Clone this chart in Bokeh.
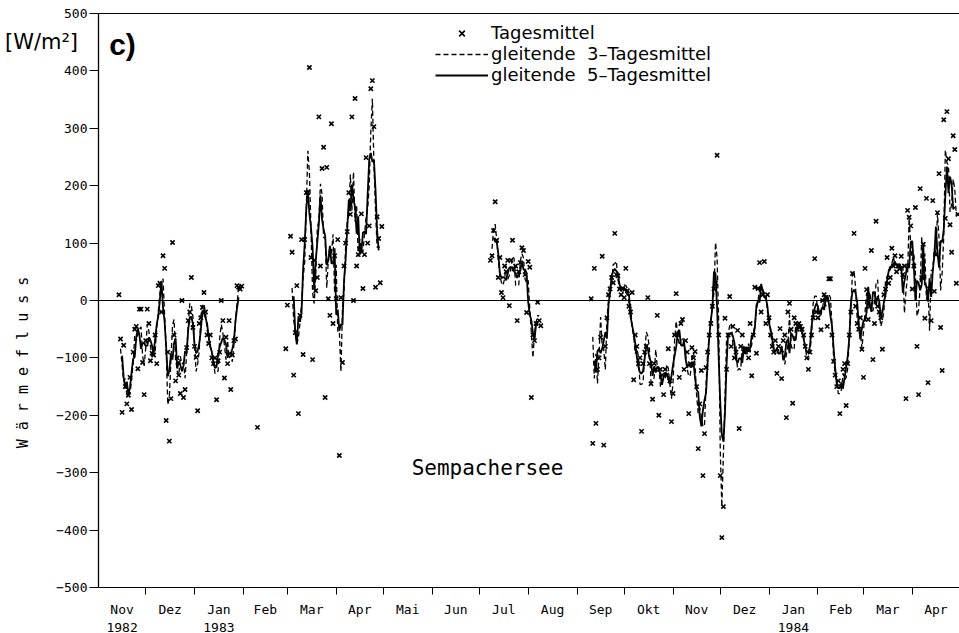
import numpy as np
import pandas as pd
from bokeh.plotting import figure
from bokeh.models import (FixedTicker, Label, Legend, LegendItem,
                          LinearAxis, Range1d)
from bokeh.embed import file_html
from bokeh.resources import INLINE

nan = float("nan")

# Daily mean heat flux [W/m2], one list per measuring campaign (first day, values)
camp_1 = ("1982-11-14", [
    10, -67, -195, -78, -150, -180, -165, -134, -190, -90,
    -50, -45, -119, -15, -15, -108, -164, -70, -15, -40,
    -105, -92, -95, -60, -110, 26, 30, -20, 78, 56,
    -209, -90, -245, -171, 101, -60, -140, -100, -130, -162,
    0, -169, -155, -82, -35, -20, 40, -47, -80, -99,
    -192, -40, -30, -12, 14, -20, -60, -75, -60, -100,
    -110, -100, -173, -105, -90, 0, -35, -135, -64, -110,
    -35, -155, -95, -70, -67, 26, 23, 20, 25])
camp_2 = ("1983-02-10", [-221])
camp_3 = ("1983-02-28", [
    -84, -8, nan, 112, 84, -130, -56, 26, -197, -26,
    106, -94, 106, 188, 188, 406, 75, -103, 70, 17,
    40, 320, 60, 230, 267, -169, 232, 3, -26, 308,
    -40, 78, 3, 106, -270, 5, -108, 60, 100, 120,
    188, 150, 320, 0, 352, 60, 80, 90, 151, 21,
    80, 249, 100, 130, 369, 383, 303, 23, 146, 108,
    31, 129])
camp_4 = ("1983-07-08", [
    70, 78, 122, 172, 105, 40, 75, 14, 5, 60,
    50, 70, -9, 70, 105, 55, 60, -35, 50, 66,
    92, 87, 45, -21, 68, 58, -169, -60, -70, -40,
    -3, -35, -44])
camp_5 = ("1983-09-10", [
    3, -249, 56, -214, -120, -100, -64, 77, -252, -80,
    -30, 10, 20, 40, 31, 117, 45, 43, 20, 10,
    21, 5, 56, 17, -10, -20, 14, -138, -60, -80,
    -110, -100, -228, -110, -90, -80, 5, -110, -145, -172,
    -110, -120, -26, -200, -120, -130, -164, -120, -130, -84,
    -140, -211, -162, -60, 12, -60, -134, -40, -33, -120,
    -70, -90, -197, -110, -82, -100, -89, -150, -258, -180,
    -122, -305, -232, -117, -90, -60, -40, -10, 20, 30,
    253, -60, -305, -413, -359, -31, -120, -60, 7, -80,
    -45, -100, -90, -52, -223, -80, -60, -90, -90, -85,
    -100, -40, -131, -60, 23, -92, 21, 66, -20, 10,
    68, -40, 10, -30, -60, -80, -90, -70, -127, -80,
    -49, -136, -70, -60, -204, -20, -5, -50, -179, -30,
    -40, -50, -40, -45, -50, -60, -80, -100, -120, -90,
    -60, -30, 73, -20, -30, -20, -51, 0, 10, 5,
    -45, 38, 38, -60, -106, -130, -150, -140, -197, -150,
    -120, -110, -183, -110, -60, -20, 47, 117, -10, -40,
    -50, -30, -85, -134, 56, 19, -33, -10, 87, -103,
    -40, 138, -10, -20, -30, -85, 10, 20, 75, 30,
    40, 91, 60, 78, 50, 60, 55, 77, 45, 60,
    -171, 157, 145, 130, 20, 60, 162, -80, -164, 195,
    40, 98, -31, 178, -143, 20, -35, 174, 16, 80,
    153, 221, -47, -122, 315, 143, 329, 247, 132, 84,
    287, 263, 30, 150])
campaigns = [camp_1, camp_2, camp_3, camp_4, camp_5]

month_labels = ["Nov\n1982", "Dez", "Jan\n1983", "Feb", "Mar", "Apr", "Mai",
                "Jun", "Jul", "Aug", "Sep", "Okt", "Nov", "Dez",
                "Jan\n1984", "Feb", "Mar", "Apr"]
y_ticks = list(range(-500, 501, 100))

# ---- assemble the daily series on a continuous calendar -------------------
t0 = pd.Timestamp("1982-11-01")
days = pd.date_range(t0, "1984-04-30", freq="D")
daily = pd.Series(np.nan, index=days)
for first, vals in campaigns:
    idx = pd.date_range(first, periods=len(vals), freq="D")
    daily.loc[idx] = vals

xday = np.asarray((days - t0).days, dtype=float)
mean3 = daily.rolling(3, center=True).mean().to_numpy()
mean5 = daily.rolling(5, center=True).mean().to_numpy()
ok = ~np.isnan(daily.to_numpy())

month_starts = pd.date_range(t0, "1984-05-01", freq="MS")
ms = np.asarray((month_starts - t0).days, dtype=float)
mid = (ms[:-1] + ms[1:]) / 2.0
x_end = ms[-1]

# ---- page geometry: the frame fills the canvas, axes sit at fixed spots ----
W, H = 959, 633
left_px, top_px, bottom_px = 98, 13, 587
ppd = (W - left_px) / x_end            # pixels per day
ppu = (bottom_px - top_px) / 1000.0    # pixels per W/m2


def dx(px):
    return (px - left_px) / ppd


def dy(py):
    return 500 - (py - top_px) / ppu


p = figure(width=W, height=H, output_backend="svg", toolbar_location=None,
           x_range=Range1d(dx(0), dx(W)), y_range=Range1d(dy(H), dy(0)),
           min_border=0, min_border_left=0, min_border_right=0,
           min_border_top=0, min_border_bottom=0)
p.outline_line_color = None
p.xgrid.visible = False
p.ygrid.visible = False
p.background_fill_color = "white"
p.border_fill_color = "white"

tick_font = "DejaVu Sans Mono"

xa = p.xaxis[0]
xa.fixed_location = -500
xa.bounds = (0, x_end)
xa.ticker = FixedTicker(ticks=list(mid), minor_ticks=list(ms[1:-1]))
xa.major_label_overrides = {float(m): lab for m, lab in zip(mid, month_labels)}
xa.major_tick_out = 0
xa.major_tick_in = 0
xa.minor_tick_out = 7
xa.minor_tick_in = 0
xa.minor_tick_line_color = "black"
xa.axis_line_color = "black"
xa.major_label_standoff = 7
xa.major_label_text_font = tick_font
xa.major_label_text_font_size = "13px"
xa.major_label_text_color = "black"

ya = p.yaxis[0]
ya.fixed_location = 0
ya.bounds = (-500, 500)
ya.ticker = FixedTicker(ticks=y_ticks)
ya.major_tick_out = 9
ya.major_tick_in = 0
ya.minor_tick_out = 0
ya.minor_tick_in = 0
ya.axis_line_color = "black"
ya.axis_line_width = 1.3
ya.major_tick_line_color = "black"
ya.major_label_standoff = 2
ya.major_label_text_font = tick_font
ya.major_label_text_font_size = "13px"
ya.major_label_text_color = "black"

# upper frame line and the zero line, drawn as bare axes
for loc, side in ((500, "above"), (0, "below")):
    ax = LinearAxis(fixed_location=loc, bounds=(0, x_end),
                    ticker=FixedTicker(ticks=[]), major_tick_out=0,
                    major_tick_in=0, minor_tick_out=0, minor_tick_in=0,
                    major_label_text_font_size="0px",
                    axis_line_color="black", axis_line_width=1)
    p.add_layout(ax, side)

pts = p.scatter(xday[ok], daily.to_numpy()[ok], marker="x", size=6,
                line_width=1.6, color="black")
l3 = p.line(xday, mean3, line_color="black", line_width=1.3, line_dash="5 3")
l5 = p.line(xday, mean5, line_color="black", line_width=1.8)

legend = Legend(items=[LegendItem(label="Tagesmittel", renderers=[pts]),
                       LegendItem(label="gleitende  3\u2013Tagesmittel", renderers=[l3]),
                       LegendItem(label="gleitende  5\u2013Tagesmittel", renderers=[l5])],
                location=(435, H - 85), orientation="vertical",
                border_line_alpha=0, background_fill_alpha=0,
                glyph_width=53, glyph_height=20, label_height=20,
                label_standoff=3, spacing=0, padding=0, margin=0,
                label_text_font="DejaVu Sans", label_text_font_size="18px",
                label_text_color="black")
p.add_layout(legend)

p.add_layout(Label(x=dx(122), y=dy(44), text="c)", text_font="Liberation Sans",
                   text_font_style="bold", text_font_size="30px",
                   text_align="center", text_baseline="middle", text_color="black"))
p.add_layout(Label(x=dx(41), y=dy(41), text="[W/m\u00b2]",
                   text_font="DejaVu Sans", text_font_size="21px",
                   text_align="center", text_baseline="middle", text_color="black"))
p.add_layout(Label(x=dx(22), y=dy(362), angle=np.pi / 2,
                   text="W \u00e4 r m e f l u s s", text_font="DejaVu Sans Mono",
                   text_font_size="15px", text_align="center",
                   text_baseline="middle", text_color="black"))
p.add_layout(Label(x=dx(487), y=dy(467), text="Sempachersee",
                   text_font="DejaVu Sans Mono", text_font_size="21px",
                   text_align="center", text_baseline="middle", text_color="black"))

open("out.html", "w").write(file_html(p, INLINE))
